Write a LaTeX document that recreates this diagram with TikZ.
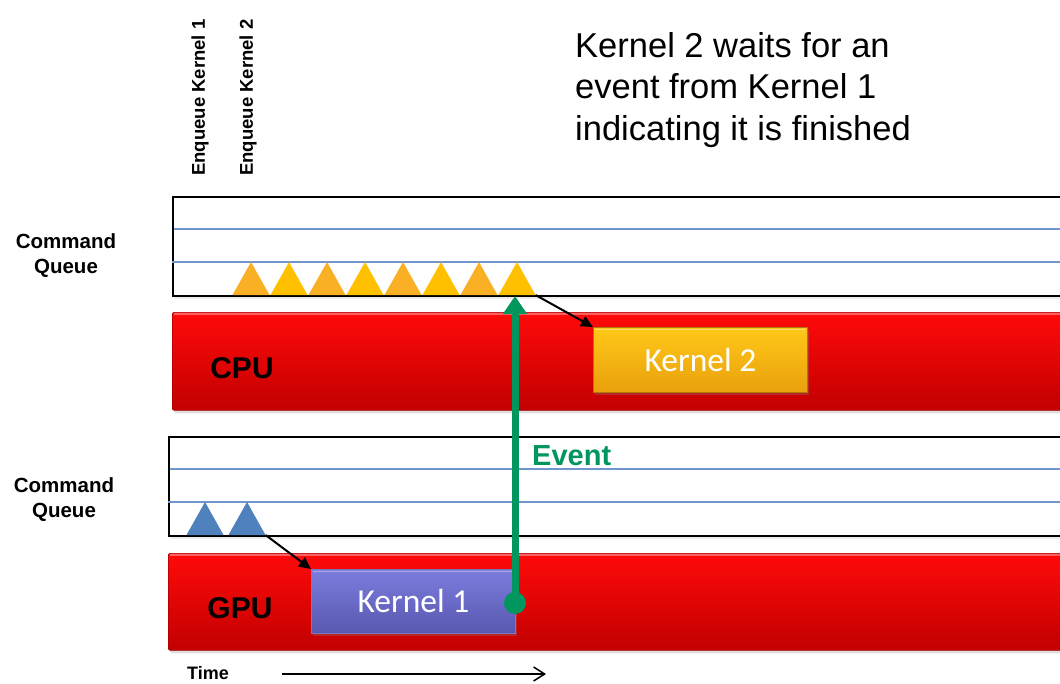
\documentclass[tikz,border=0pt]{standalone}
\usepackage{fontspec}
\setmainfont{Liberation Sans}
\newfontfamily\calib{Carlito}
\usetikzlibrary{arrows.meta,shadows}

\definecolor{barred}{HTML}{FF0A0A}
\definecolor{bardark}{HTML}{C20000}
\definecolor{qblue}{HTML}{7096CB}
\definecolor{triA}{HTML}{F9B024}
\definecolor{triB}{HTML}{FFC000}
\definecolor{gpublue}{HTML}{4F81BD}
\definecolor{evgreen}{HTML}{00965E}
\definecolor{ktwotop}{HTML}{FFC818}
\definecolor{ktwobot}{HTML}{E9A00C}
\definecolor{konetop}{HTML}{7C7CDE}
\definecolor{konebot}{HTML}{5858B0}

\tikzset{
  queuebox/.style={rectangle, draw=black, line width=1.5pt, fill=white, inner sep=0pt,
    anchor=north west,
    drop shadow={shadow xshift=1pt, shadow yshift=-3pt, opacity=.15}},
  lane/.style={draw=qblue, line width=1.4pt},
  procbar/.style={rectangle, inner sep=0pt, anchor=north west, rounded corners=2pt,
    top color=barred, bottom color=bardark, draw=bardark!85!black, line width=.6pt,
    drop shadow={shadow xshift=2pt, shadow yshift=-3pt, opacity=.25}},
  kernelbox/.style={rectangle, inner sep=0pt, anchor=north west,
    font=\calib\fontsize{33.5}{33.5}\selectfont, text=white, line width=.8pt,
    drop shadow={shadow xshift=2pt, shadow yshift=-3pt, opacity=.3}},
  proclabel/.style={font=\bfseries\fontsize{30}{30}\selectfont, text=black},
  qlabel/.style={font=\bfseries\fontsize{20.5}{25}\selectfont, align=center},
  enqlabel/.style={font=\bfseries\fontsize{18.5}{18.5}\selectfont, rotate=90, anchor=west, inner sep=0pt},
  conn/.style={draw=black, line width=2pt, -{Triangle[length=12pt,width=11pt]}},
  evline/.style={draw=evgreen, line width=7pt, -{Triangle[length=18pt,width=23pt]}},
  rim/.style={draw=white, line width=1.2pt, opacity=.35},
}

\begin{document}
\begin{tikzpicture}[x=1pt, y=-1pt]
  \clip (0,0) rectangle (1060,683);
  \fill[white] (0,0) rectangle (1060,683);

  % explanatory note
  \node[anchor=north west, inner sep=0pt, align=left,
        font=\fontsize{34.5}{41.5}\selectfont] (note) at (575,32)
    {Kernel 2 waits for an\\event from Kernel 1\\indicating it is finished};

  % enqueue markers
  \node[enqlabel] (enq1) at (200,176) {Enqueue Kernel 1};
  \node[enqlabel] (enq2) at (248,176) {Enqueue Kernel 2};

  % ---- CPU command queue ----
  \node[qlabel] (cqlbl) at (66,256) {Command\\Queue};
  \node[queuebox, minimum width=900, minimum height=99] (cq) at (172,196) {};
  \draw[lane] (174,229) -- (1075,229);
  \draw[lane] (172,262) -- (1075,262);
  \foreach \i in {0,...,7} {
    \pgfmathsetmacro{\ax}{251+38*\i}
    \ifodd\i \def\tc{triB}\else \def\tc{triA}\fi
    \fill[\tc] (\ax-18.5,295) -- (\ax,262) -- (\ax+18.5,295) -- cycle;
  }
  \coordinate (cqlast) at (535.5,295);

  % CPU bar
  \node[procbar, minimum width=900, minimum height=98] (cpu) at (172,312) {};
  \draw[rim] (174,314) -- (1070,314);
  \node[proclabel] (cpulbl) at (242,368) {CPU};
  \node[kernelbox, minimum width=214, minimum height=65,
        top color=ktwotop, bottom color=ktwobot, draw=ktwobot!75!black] (k2) at (593,327) {Kernel 2};
  \draw[rim] (595,329.5) -- (805,329.5);

  % ---- GPU command queue ----
  \node[qlabel] (gqlbl) at (64,500) {Command\\Queue};
  \node[queuebox, minimum width=905, minimum height=99] (gq) at (168,436) {};
  \draw[lane] (170,469) -- (1075,469);
  \draw[lane] (168,502) -- (1075,502);
  \foreach \ax in {205,247} {
    \fill[gpublue] (\ax-18.5,535) -- (\ax,502) -- (\ax+18.5,535) -- cycle;
  }
  \coordinate (gqlast) at (265.5,535);

  % GPU bar
  \node[procbar, minimum width=905, minimum height=97] (gpu) at (168,553) {};
  \draw[rim] (170,555) -- (1070,555);
  \node[proclabel] (gpulbl) at (240,608) {GPU};
  \node[kernelbox, minimum width=204, minimum height=64,
        top color=konetop, bottom color=konebot, draw=konebot!80!white] (k1) at (311,569) {Kernel 1};
  \draw[rim] (313,571.5) -- (513,571.5);

  % dispatch arrows
  \draw[conn] (cqlast) -- (k2.north west);
  \draw[conn] (gqlast) -- (k1.north west);

  % completion event
  \node[circle, fill=evgreen, minimum size=22, inner sep=0pt] (ev) at (515,603) {};
  \coordinate (evtip) at (515,296);
  \draw[evline] (ev.center) -- (evtip);
  \node[anchor=west, inner sep=0pt, text=evgreen,
        font=\bfseries\fontsize{29}{29}\selectfont] (evlbl) at (532,456) {Event};

  % time axis
  \node[font=\bfseries\fontsize{18}{18}\selectfont, inner sep=1pt] (timelbl) at (208,673) {Time};
  \coordinate (t0) at (282,674);
  \coordinate (t1) at (546,674);
  \draw[line width=1.5pt, -{Straight Barb[length=11pt,width=14pt]}] (t0) -- (t1);
\end{tikzpicture}
\end{document}
